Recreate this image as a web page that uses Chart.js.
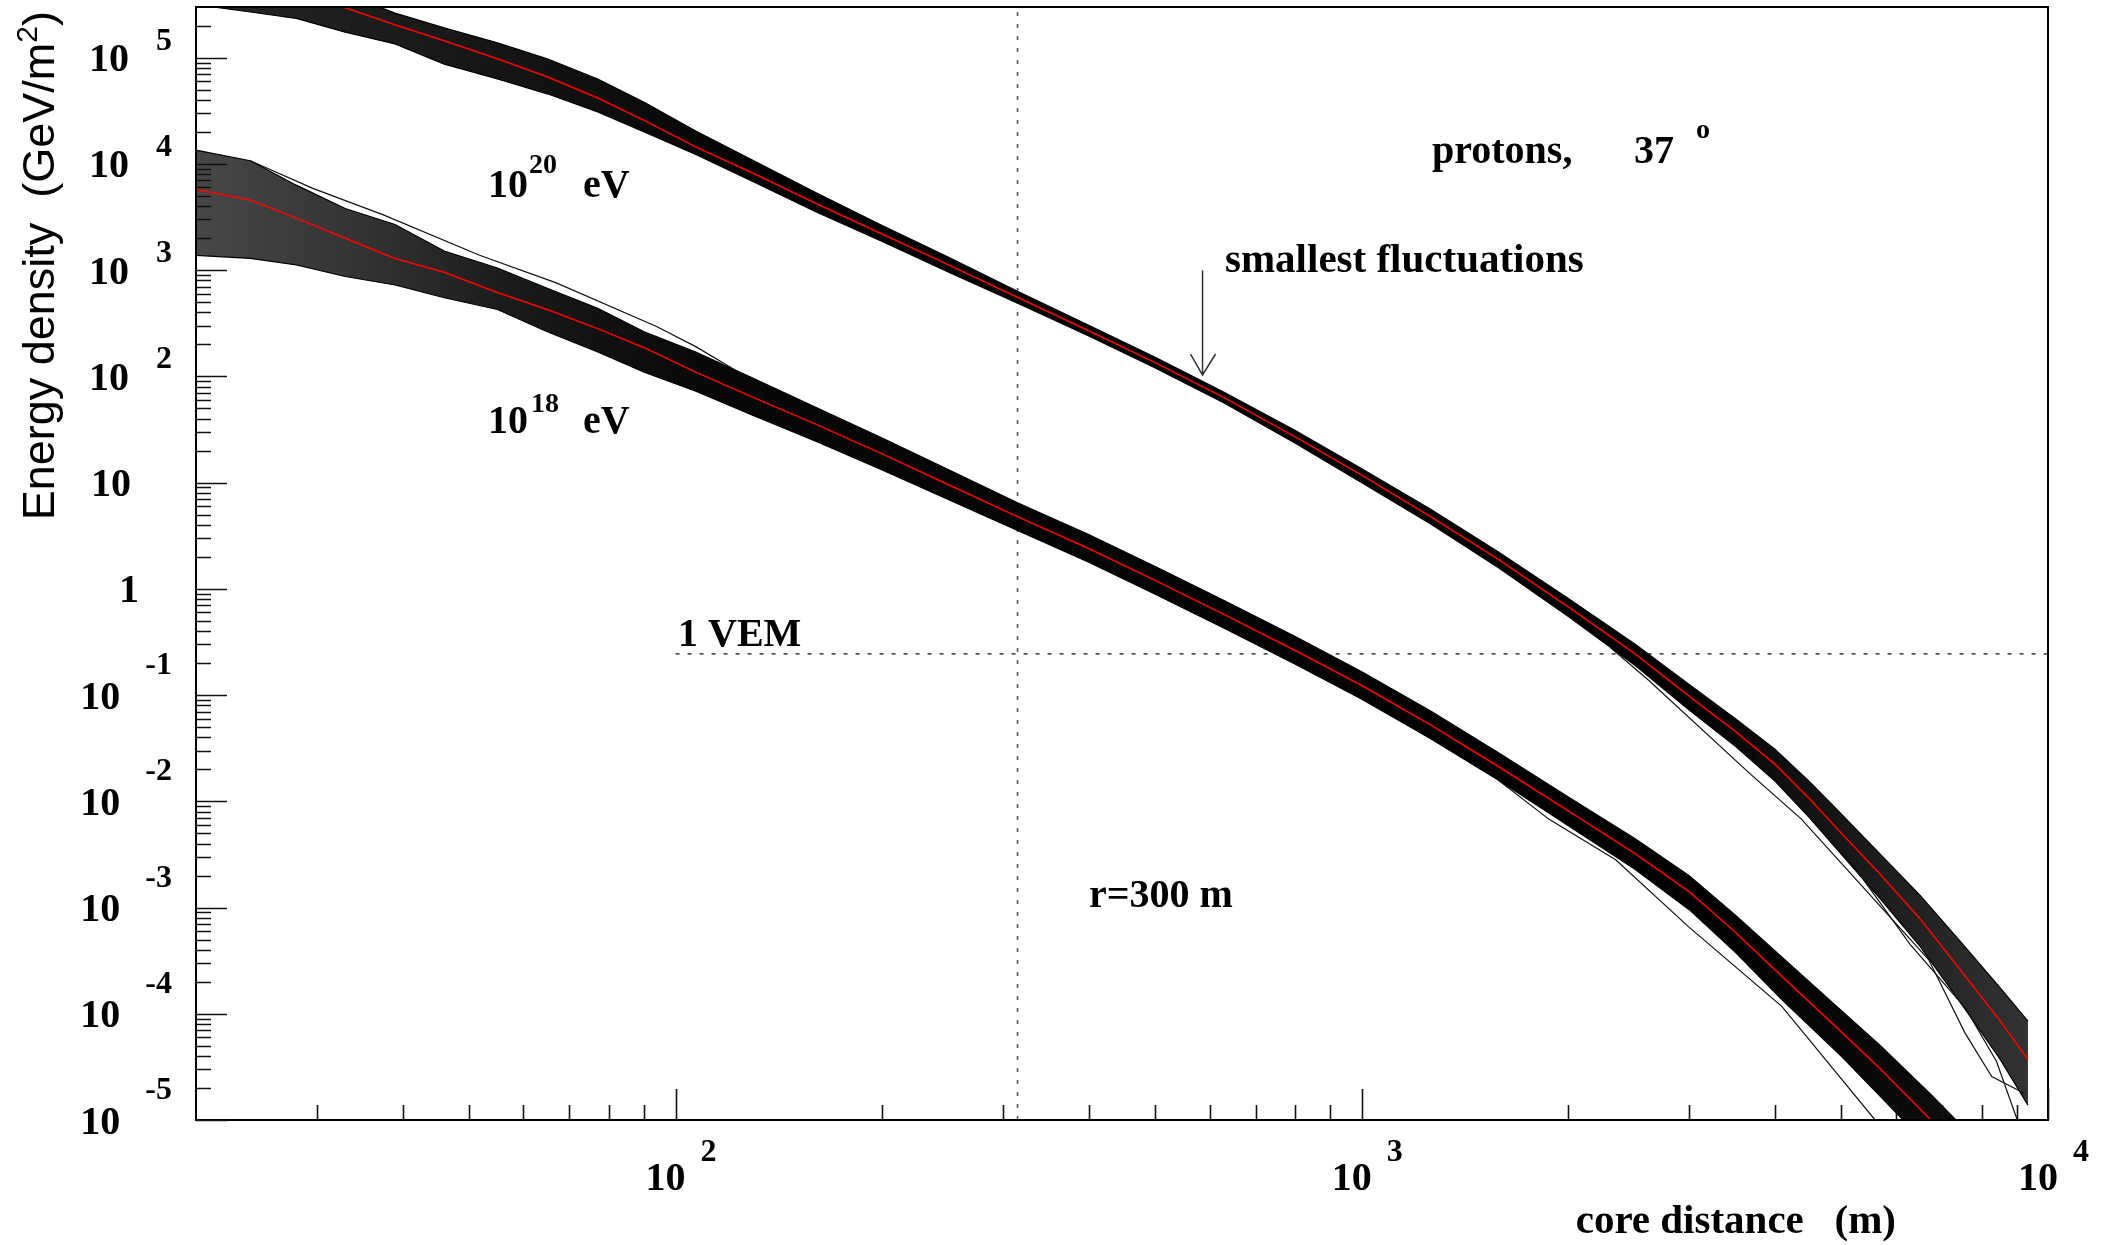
<!DOCTYPE html>
<html>
<head>
<meta charset="utf-8">
<script src="https://cdn.jsdelivr.net/npm/chart.js@4.4.1/dist/chart.umd.min.js"></script>
<style>
  html, body { margin: 0; padding: 0; background: #fff; }
  #wrap { width: 2113px; height: 1245px; position: relative; }
  canvas { display: block; }
</style>
</head>
<body>
<div id="wrap"><canvas id="c" width="2113" height="1245"></canvas></div>
<script>
// ---- axis ranges and tick decades ----
const xMin = 20, xMax = 10000;          // core distance (m)
const yMin = 1e-5, yMax = 3e5;          // energy density (GeV/m^2)
const xLabelDecades = [2, 3, 4];
const yLabelDecades = [-5, -4, -3, -2, -1, 0, 1, 2, 3, 4, 5];

// ---- 10^18 eV showers: sample radii (m) and log10 energy density ----
const radii18 = [20, 24, 28, 33, 39, 46, 55, 65, 77, 90,
                 107, 130, 160, 200, 250, 315, 400, 500, 630, 800,
                 1000, 1260, 1580, 2000, 2500, 3000, 3500, 4100, 5000, 5700,
                 6750, 7500];
const mean18  = [3.76, 3.66, 3.49, 3.30, 3.11, 2.98, 2.79, 2.63, 2.45, 2.27,
                 2.04, 1.80, 1.55, 1.27, 0.98, 0.68, 0.38, 0.08, -0.24, -0.58,
                 -0.91, -1.28, -1.67, -2.09, -2.49, -2.85, -3.23, -3.65, -4.17, -4.52,
                 -5.00, -5.32];
const upper18 = [4.13, 4.03, 3.80, 3.58, 3.43, 3.18, 3.02, 2.83, 2.64, 2.42,
                 2.23, 1.98, 1.71, 1.42, 1.12, 0.81, 0.51, 0.21, -0.11, -0.45,
                 -0.78, -1.15, -1.54, -1.96, -2.35, -2.70, -3.07, -3.47, -3.97, -4.30,
                 -4.76, -5.06];
const lower18 = [3.14, 3.11, 3.05, 2.94, 2.86, 2.74, 2.63, 2.42, 2.23, 2.04,
                 1.86, 1.63, 1.39, 1.12, 0.84, 0.55, 0.25, -0.05, -0.37, -0.71,
                 -1.04, -1.41, -1.80, -2.23, -2.64, -3.02, -3.42, -3.87, -4.40, -4.78,
                 -5.27, -5.62];
// single showers leaving the 10^18 bundle
const strayA18Radii = [24, 29.6, 37.5, 51.8, 67, 93.8, 107, 125];
const strayA18      = [4.03, 3.77, 3.52, 3.14, 2.88, 2.47, 2.28, 2.02];
const strayB18Radii = [1580, 1875, 2344, 2992, 4093, 5598];
const strayB18      = [-1.80, -2.17, -2.55, -3.18, -3.93, -5.00];

// ---- 10^20 eV showers: sample radii (m) and log10 energy density ----
const radii20 = [20, 24, 28, 33, 39, 46, 55, 65, 77, 90,
                 107, 130, 160, 200, 250, 315, 400, 500, 630, 800,
                 1000, 1260, 1580, 2000, 2500, 3000, 3500, 4000, 4500, 5000,
                 5700, 6500, 7500, 8500, 9350];
const mean20  = [5.95, 5.78, 5.63, 5.47, 5.31, 5.16, 4.99, 4.82, 4.62, 4.41,
                 4.16, 3.91, 3.63, 3.34, 3.05, 2.745, 2.43, 2.13, 1.80, 1.43,
                 1.07, 0.68, 0.28, -0.17, -0.61, -1.01, -1.34, -1.65, -1.98, -2.30,
                 -2.69, -3.10, -3.61, -4.06, -4.43];
const upper20 = [6.25, 6.05, 5.85, 5.60, 5.42, 5.28, 5.14, 4.99, 4.80, 4.58,
                 4.31, 4.03, 3.73, 3.42, 3.12, 2.80, 2.48, 2.18, 1.85, 1.49,
                 1.13, 0.75, 0.35, -0.09, -0.52, -0.90, -1.22, -1.51, -1.82, -2.12,
                 -2.50, -2.88, -3.34, -3.75, -4.07];
const lower20 = [5.50, 5.43, 5.37, 5.24, 5.13, 4.94, 4.80, 4.66, 4.49, 4.30,
                 4.09, 3.83, 3.55, 3.27, 2.98, 2.69, 2.38, 2.08, 1.75, 1.37,
                 1.00, 0.61, 0.20, -0.26, -0.72, -1.14, -1.48, -1.81, -2.16, -2.50,
                 -2.92, -3.36, -3.92, -4.42, -4.86];
// single showers leaving the 10^20 bundle
const strayA20Radii = [2300, 2618, 3664, 4375, 6699, 7568, 8279, 9247];
const strayA20      = [-0.55, -0.86, -1.73, -2.17, -3.49, -4.18, -4.59, -4.75];
const strayB20Radii = [5000, 6300, 7586, 8414, 9078];
const strayB20      = [-2.45, -3.35, -3.95, -4.45, -5.05];

// ---- reference markers ----
const vemLevel = 0.244;        // 1 VEM in GeV/m^2
const vemFrom = 100;           // horizontal marker starts here (m)
const refRadius = 315;         // vertical marker at r = 300 m
const arrowRadius = 586;       // "smallest fluctuations" arrow
const arrowTop = 1000, arrowTip = 103;

const SERIF = '"Liberation Serif", "Times New Roman", serif';
const SANS = '"Liberation Sans", Arial, sans-serif';

function toPoints(rs, exps) {
  return rs.map((r, i) => ({ x: r, y: Math.pow(10, exps[i]) }));
}

// horizontal darkness profile of a shower band (denser where showers agree)
function bandFill(stops) {
  return function (context) {
    const chart = context.chart;
    if (!chart.chartArea) return 'rgba(0,0,0,0.9)';
    const xs = chart.scales.x;
    const g = chart.ctx.createLinearGradient(xs.left, 0, xs.right, 0);
    stops.forEach(([r, a]) => {
      const f = Math.min(1, Math.max(0, (xs.getPixelForValue(r) - xs.left) / (xs.right - xs.left)));
      g.addColorStop(f, 'rgba(0,0,0,' + a + ')');
    });
    return g;
  };
}

function line(data, color, width, order, extra) {
  return Object.assign({ data, borderColor: color, borderWidth: width, order, fill: false,
                         pointRadius: 0, tension: 0 }, extra || {});
}

const axesAndLabels = {
  id: 'axesAndLabels',
  afterDatasetsDraw(chart) {
    const ctx = chart.ctx;
    const { left, right, top, bottom } = chart.chartArea;
    const xs = chart.scales.x, ys = chart.scales.y;
    ctx.save();

    // arrow pointing at the narrowest part of the 10^20 bundle
    const ax = xs.getPixelForValue(arrowRadius);
    const ay0 = ys.getPixelForValue(arrowTop), ay1 = ys.getPixelForValue(arrowTip);
    ctx.strokeStyle = '#333'; ctx.lineWidth = 1.5;
    ctx.beginPath();
    ctx.moveTo(ax, ay0); ctx.lineTo(ax, ay1);
    ctx.moveTo(ax - 12, ay1 - 21); ctx.lineTo(ax, ay1); ctx.lineTo(ax + 13, ay1 - 21);
    ctx.stroke();

    // frame
    ctx.strokeStyle = '#000'; ctx.lineWidth = 2;
    ctx.strokeRect(left, top, right - left, bottom - top);

    // ticks
    ctx.lineWidth = 1.6; ctx.strokeStyle = '#111';
    ctx.beginPath();
    for (let n = 1; n <= 4; n++) {
      for (let k = 1; k <= 9; k++) {
        const v = k * Math.pow(10, n);
        if (v <= xMin || v > xMax) continue;
        const px = Math.round(xs.getPixelForValue(v)) + 0.5;
        ctx.moveTo(px, bottom); ctx.lineTo(px, bottom - (k === 1 ? 31 : 15));
      }
    }
    for (let n = -5; n <= 5; n++) {
      for (let k = 1; k <= 9; k++) {
        const v = k * Math.pow(10, n);
        if (v < yMin * 0.999 || v >= yMax) continue;
        const py = Math.round(ys.getPixelForValue(v)) + 0.5;
        ctx.moveTo(left, py); ctx.lineTo(left + (k === 1 ? 31 : 15), py);
      }
    }
    ctx.stroke();

    ctx.fillStyle = '#000';
    ctx.textBaseline = 'alphabetic';
    const big = 'bold 40px ' + SERIF, sup = 'bold 32px ' + SERIF;

    // x tick labels: 10 with exponent
    xLabelDecades.forEach(n => {
      const px = xs.getPixelForValue(Math.pow(10, n));
      ctx.font = big; ctx.textAlign = 'right';
      ctx.fillText('10', px + 10, 1190);
      ctx.font = sup; ctx.textAlign = 'left';
      ctx.fillText(String(n), px + 25, 1161);
    });

    // y tick labels
    yLabelDecades.forEach(n => {
      const py = ys.getPixelForValue(Math.pow(10, n));
      if (n === 0) {
        ctx.font = big; ctx.textAlign = 'right'; ctx.fillText('1', 139, py + 13.5);
      } else if (n === 1) {
        ctx.font = big; ctx.textAlign = 'right'; ctx.fillText('10', 131, py + 13.5);
      } else {
        const e = String(n);
        ctx.font = sup; ctx.textAlign = 'right';
        const w = ctx.measureText(e).width;
        ctx.fillText(e, 172, py - (n < 0 ? 21 : 8));
        ctx.font = big;
        ctx.fillText('10', 172 - w - (n < 0 ? 25 : 27), py + 13.5);
      }
    });

    // axis titles
    ctx.font = 'bold 41px ' + SERIF; ctx.textAlign = 'right';
    ctx.fillText('core distance   (m)', 1896, 1233);

    ctx.save();
    ctx.translate(54, 11);
    ctx.rotate(-Math.PI / 2);
    ctx.textAlign = 'left';
    const partA = 'Energy density  (GeV/m', partB = '2', partC = ')';
    ctx.font = '45px ' + SANS;
    const wA = ctx.measureText(partA).width, wC = ctx.measureText(partC).width;
    ctx.font = '30px ' + SANS;
    const wB = ctx.measureText(partB).width;
    let x0 = -(wA + wB + wC);
    ctx.font = '45px ' + SANS; ctx.fillText(partA, x0, 0);
    ctx.font = '30px ' + SANS; ctx.fillText(partB, x0 + wA, -17);
    ctx.font = '45px ' + SANS; ctx.fillText(partC, x0 + wA + wB, 0);
    ctx.restore();

    // annotations
    ctx.textAlign = 'left';
    const word = (s, x, y, f) => { ctx.font = f; ctx.fillText(s, x, y); };
    word('10', 488, 197, big); word('20', 529, 173, 'bold 28px ' + SERIF); word('eV', 583, 197, big);
    word('10', 488, 433, big); word('18', 531, 412, 'bold 28px ' + SERIF); word('eV', 583, 433, big);
    word('protons,', 1432, 163, big); word('37', 1634, 163, big); word('o', 1696, 138, 'bold 28px ' + SERIF);
    word('smallest fluctuations', 1225, 272, 'bold 41px ' + SERIF);
    word('1 VEM', 678, 646, big);
    word('r=300 m', 1089, 907, big);

    ctx.restore();
  }
};

new Chart(document.getElementById('c'), {
  type: 'line',
  data: {
    datasets: [
      line(toPoints(radii20, mean20), '#ff0000', 1.5, 0),
      line(toPoints(radii18, mean18), '#ff0000', 1.5, 0),
      line(toPoints(strayA18Radii, strayA18), '#111', 1.2, 1),
      line(toPoints(strayB18Radii, strayB18), '#111', 1.2, 1),
      line(toPoints(strayA20Radii, strayA20), '#111', 1.2, 1),
      line(toPoints(strayB20Radii, strayB20), '#111', 1.2, 1),
      line(toPoints(radii20, upper20), '#000', 1.2, 2,
           { fill: '+1', backgroundColor: bandFill([[20, 0.85], [60, 0.92], [150, 1], [3000, 1], [6000, 0.88], [9350, 0.8]]) }),
      line(toPoints(radii20, lower20), '#000', 1.2, 2),
      line(toPoints(radii18, upper18), '#000', 1.2, 2,
           { fill: '+1', backgroundColor: bandFill([[20, 0.72], [35, 0.8], [60, 0.9], [110, 0.97], [3000, 1], [7500, 0.95]]) }),
      line(toPoints(radii18, lower18), '#000', 1.2, 2),
      line([{ x: vemFrom, y: vemLevel }, { x: xMax, y: vemLevel }], '#555', 1.6, 3, { borderDash: [4, 8] }),
      line([{ x: refRadius, y: yMin }, { x: refRadius, y: yMax }], '#555', 1.6, 3, { borderDash: [4, 8] })
    ]
  },
  options: {
    responsive: false,
    animation: false,
    devicePixelRatio: 1,
    events: [],
    layout: { padding: { left: 196, right: 65, top: 7, bottom: 125 } },
    scales: {
      x: { type: 'logarithmic', min: xMin, max: xMax, display: false },
      y: { type: 'logarithmic', min: yMin, max: yMax, display: false }
    },
    plugins: { legend: { display: false }, tooltip: { enabled: false } }
  },
  plugins: [axesAndLabels]
});
</script>
</body>
</html>
